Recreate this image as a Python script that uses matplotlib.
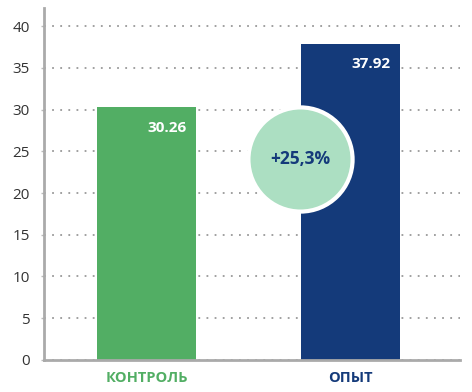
import matplotlib.pyplot as plt

groups = ['КОНТРОЛЬ', 'ОПЫТ']
values = [30.26, 37.92]
value_labels = ['30.26', '37.92']
bar_colors = ['#52ae64', '#143a7a']
growth_label = '+25,3%'
yticks = [0, 5, 10, 15, 20, 25, 30, 35, 40]

plt.rcParams['font.family'] = ['Open Sans', 'DejaVu Sans']

fig = plt.figure(figsize=(4.72, 3.92), dpi=100)
ax = fig.add_axes([0.093, 0.082, 0.882, 0.898])

x = [0, 1]
ax.bar(x, values, width=0.485, color=bar_colors, zorder=2)

for i, (v, lab) in enumerate(zip(values, value_labels)):
    ax.text(i + 0.1, v - 2.5, lab, color='white', fontsize=11, fontweight='bold',
            ha='center', va='center', zorder=3)

# growth circle between the bars
ax.scatter([0.752], [24.1], s=75 ** 2, color='#acdfc2', edgecolors='white',
           linewidths=3, zorder=4, clip_on=False)
ax.text(0.752, 24.1, growth_label, color='#143a7a', fontsize=12.5, fontweight='bold',
        ha='center', va='center', zorder=5)

ax.set_xlim(-0.502, 1.537)
ax.set_ylim(0, 42.2)
ax.set_yticks(yticks)
ax.set_yticklabels([str(t) for t in yticks], color='#333333', fontsize=11)
for t in yticks:
    ax.axhline(t, color='#999999', linestyle=(0, (1, 3.5)), linewidth=1.3, zorder=1)

ax.set_xticks(x)
ax.set_xticklabels(groups, fontsize=10.5, fontweight='bold')
for lbl, c in zip(ax.get_xticklabels(), bar_colors):
    lbl.set_color(c)
ax.tick_params(axis='x', length=0, pad=8)
ax.tick_params(axis='y', length=2, width=1, color='#bbbbbb', pad=8)

for s in ['top', 'right']:
    ax.spines[s].set_visible(False)
for s in ['left', 'bottom']:
    ax.spines[s].set_color('#aaaaaa')
    ax.spines[s].set_linewidth(2)

fig.savefig('out.png', dpi=100)
